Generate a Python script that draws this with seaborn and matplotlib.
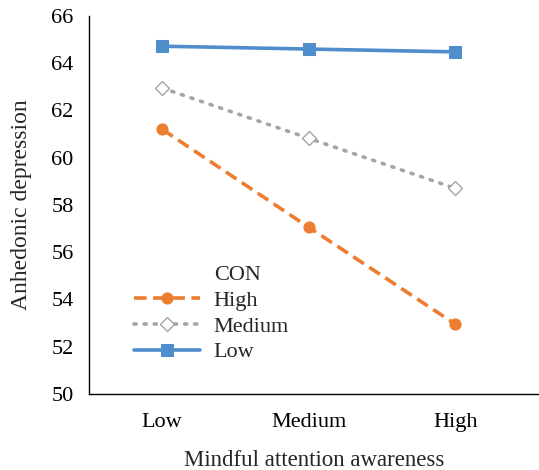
import seaborn as sns
import matplotlib.pyplot as plt
import pandas as pd
from matplotlib.lines import Line2D

# Data
awareness = ['Low', 'Medium', 'High']
con_high = [61.2, 57.05, 52.95]
con_medium = [62.95, 60.82, 58.7]
con_low = [64.72, 64.6, 64.48]

sns.set_style('white')
plt.rcParams['font.family'] = ['Liberation Serif', 'DejaVu Serif']
plt.rcParams['font.size'] = 16

fig = plt.figure(figsize=(5.39, 4.70), dpi=100)
ax = fig.add_axes([0.165, 0.162, 0.835, 0.804])

df = pd.DataFrame({'x': awareness * 3,
                   'y': con_high + con_medium + con_low,
                   'CON': ['High'] * 3 + ['Medium'] * 3 + ['Low'] * 3})

styles = {
    'High': dict(color='#ED7D31', marker='o', markersize=8, linestyle=(0, (3.5, 1.8)),
                 markeredgecolor='#ED7D31'),
    'Medium': dict(color='#A5A5A5', marker='D', markersize=7, linestyle=(0, (0.6, 2.2)),
                   markerfacecolor='white', markeredgecolor='#A5A5A5', markeredgewidth=1,
                   dash_capstyle='round'),
    'Low': dict(color='#4F8DCB', marker='s', markersize=8, linestyle='-',
                markeredgecolor='#4F8DCB'),
}
for name in ['High', 'Medium', 'Low']:
    sub = df[df['CON'] == name]
    sns.lineplot(data=sub, x='x', y='y', ax=ax, linewidth=2.6, label=name, **styles[name])

ax.set_xlim(-0.5, 2.57)
ax.set_ylim(50, 66)
ax.set_yticks(range(50, 67, 2))
ax.set_xlabel('Mindful attention awareness', fontsize=16.5, labelpad=13)
ax.set_ylabel('Anhedonic depression', fontsize=17, labelpad=14)
ax.tick_params(direction='in', length=6, width=1, colors='black', labelsize=16, pad=11)
ax.tick_params(axis='x', pad=14)
for s in ['top', 'right']:
    ax.spines[s].set_visible(False)
for s in ['left', 'bottom']:
    ax.spines[s].set_color('black')
    ax.spines[s].set_linewidth(1)

handles, labels = ax.get_legend_handles_labels()
blank = Line2D([], [], linestyle='none')
ax.legend([blank] + handles, ['CON'] + labels, loc='upper left',
          bbox_to_anchor=(0.08, 0.365), frameon=False, fontsize=16,
          handlelength=3.0, labelspacing=0.23, handletextpad=0.6, borderaxespad=0)

plt.savefig('out.png', dpi=100)
